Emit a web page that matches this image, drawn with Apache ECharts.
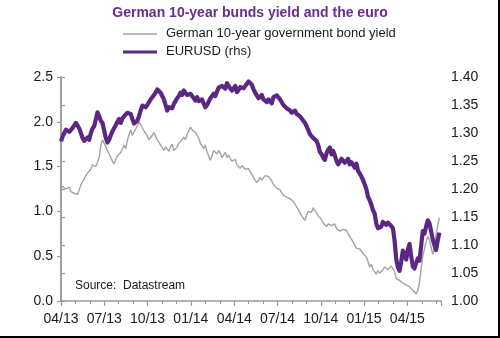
<!DOCTYPE html>
<html>
<head>
<meta charset="utf-8">
<script src="https://cdn.jsdelivr.net/npm/echarts@6/dist/echarts.min.js"></script>
<style>
html,body{margin:0;padding:0;background:#fff;}
#chart{width:500px;height:338px;}
</style>
</head>
<body>
<div id="chart"></div>
<script>
// ---- data ----
const titleText = 'German 10-year bunds yield and the euro';
const seriesNames = ['German 10-year government bond yield', 'EURUSD (rhs)'];
const startDate = '2013-04-01';   // first observation
const stepDays = 3.5;             // twice-weekly observations
const xTickLabels = ['04/13','07/13','10/13','01/14','04/14','07/14','10/14','01/15','04/15'];
const leftTicks = [0.0, 0.5, 1.0, 1.5, 2.0, 2.5];
const rightTicks = [1.00, 1.05, 1.10, 1.15, 1.20, 1.25, 1.30, 1.35, 1.40];

const bundYield = [
  1.24,1.28, 1.27,1.25, 1.24,1.27, 1.22,1.23, 1.20,1.22,
  1.19,1.24, 1.30,1.33, 1.36,1.40, 1.43,1.41, 1.47,1.52,
  1.52,1.50, 1.55,1.60, 1.74,1.80, 1.79,1.72, 1.68,1.64,
  1.60,1.56, 1.53,1.58, 1.62,1.60, 1.66,1.70, 1.74,1.70,
  1.79,1.86, 1.91,1.85, 1.87,1.92, 1.94,2.00, 1.97,1.93,
  1.90,1.87, 1.84,1.80, 1.82,1.85, 1.88,1.84, 1.80,1.78,
  1.74,1.72, 1.68,1.72, 1.70,1.67, 1.72,1.75, 1.68,1.70,
  1.72,1.76, 1.78,1.80, 1.83,1.80, 1.86,1.84, 1.94,1.91,
  1.92,1.88, 1.86,1.82, 1.76,1.78, 1.70,1.74, 1.66,1.62,
  1.57,1.62, 1.68,1.66, 1.64,1.68, 1.65,1.60, 1.62,1.66,
  1.60,1.63, 1.59,1.56, 1.55,1.58, 1.52,1.54, 1.48,1.51,
  1.52,1.47, 1.46,1.48, 1.44,1.41, 1.38,1.36, 1.32,1.35,
  1.38,1.35, 1.36,1.40, 1.41,1.39, 1.37,1.34, 1.30,1.28,
  1.26,1.25, 1.24,1.21, 1.18,1.20, 1.16,1.18, 1.14,1.12,
  1.11,1.08, 1.05,1.03, 0.99,0.95, 0.93,0.90, 0.96,1.00,
  1.02,0.99, 1.04,1.01, 0.98,0.95, 0.93,0.91, 0.87,0.89,
  0.83,0.86, 0.86,0.84, 0.85,0.86, 0.81,0.83, 0.78,0.77,
  0.80,0.78, 0.79,0.75, 0.72,0.69, 0.66,0.62, 0.59,0.61,
  0.58,0.56, 0.53,0.54, 0.49,0.44, 0.38,0.41, 0.35,0.33,
  0.30,0.34, 0.31,0.33, 0.35,0.38, 0.37,0.35, 0.37,0.39,
  0.37,0.33, 0.25,0.27, 0.23,0.21, 0.20,0.22, 0.18,0.16,
  0.16,0.14, 0.12,0.10, 0.08,0.12, 0.20,0.36, 0.50,0.58,
  0.66,0.72, 0.68,0.60, 0.52,0.60, 0.74,0.84, 0.93
];

const eurusd = [
  1.285,1.294, 1.300,1.306, 1.309,1.302, 1.304,1.309, 1.312,1.318,
  1.316,1.308, 1.300,1.291, 1.286,1.284, 1.292,1.288, 1.300,1.308,
  1.312,1.324, 1.337,1.330, 1.322,1.318, 1.305,1.291, 1.283,1.288,
  1.296,1.303, 1.305,1.314, 1.320,1.325, 1.318,1.326, 1.330,1.327,
  1.336,1.339, 1.334,1.325, 1.317,1.320, 1.322,1.330, 1.340,1.349,
  1.352,1.346, 1.350,1.355, 1.356,1.364, 1.368,1.372, 1.378,1.380,
  1.372,1.366, 1.360,1.350, 1.340,1.346, 1.348,1.344, 1.352,1.357,
  1.362,1.366, 1.372,1.368, 1.376,1.374, 1.368,1.365, 1.370,1.372,
  1.362,1.358, 1.364,1.357, 1.356,1.360, 1.352,1.346, 1.350,1.356,
  1.362,1.366, 1.370,1.366, 1.374,1.381, 1.378,1.384, 1.386,1.379,
  1.389,1.384, 1.380,1.376, 1.378,1.384, 1.373,1.377, 1.382,1.385,
  1.380,1.384, 1.388,1.392, 1.394,1.386, 1.378,1.372, 1.370,1.362,
  1.365,1.368, 1.360,1.362, 1.355,1.360, 1.358,1.353, 1.364,1.362,
  1.367,1.368, 1.360,1.355, 1.350,1.352, 1.344,1.346, 1.340,1.336,
  1.338,1.340, 1.334,1.333, 1.330,1.326, 1.322,1.318, 1.312,1.305,
  1.298,1.300, 1.291,1.294, 1.286,1.278, 1.266,1.262, 1.256,1.252,
  1.264,1.270, 1.274,1.262, 1.268,1.260, 1.250,1.244, 1.246,1.254,
  1.252,1.247, 1.250,1.254, 1.244,1.248, 1.250,1.238, 1.245,1.232,
  1.228,1.222, 1.216,1.208, 1.200,1.186, 1.180,1.172, 1.162,1.156,
  1.138,1.130, 1.128,1.133, 1.141,1.144, 1.136,1.140, 1.138,1.134,
  1.130,1.108, 1.075,1.060, 1.054,1.070, 1.090,1.082, 1.074,1.092,
  1.102,1.080, 1.062,1.058, 1.068,1.076, 1.072,1.098, 1.125,1.120,
  1.133,1.144, 1.139,1.125, 1.110,1.100, 1.091,1.108, 1.122
];

// ---- build ----
const daysPerMonth = 30.4375;
const t0 = Date.parse(startDate + 'T00:00:00Z');
function xOf(i) {
  const t = t0 + i * stepDays * 86400000;
  return (t - t0) / 86400000 / daysPerMonth;   // months since start
}
const bundData = bundYield.map((v, i) => [xOf(i), v]);
const eurData = eurusd.map((v, i) => [xOf(i), v]);

const FONT = 'Arial, "Liberation Sans", sans-serif';
const AXIS_COLOR = '#9a9a9a';
const TEXT_COLOR = '#1a1a1a';
const PURPLE = '#5c2784';
const GREY = '#a3a3a3';
const xMax = 26.33;

const chart = echarts.init(document.getElementById('chart'), null, {renderer: 'canvas'});
chart.setOption({
  animation: false,
  backgroundColor: '#ffffff',
  title: {
    text: titleText,
    left: 'center',
    top: 1,
    textStyle: {fontFamily: FONT, fontSize: 14, fontWeight: 'bold', color: '#6a2c90'}
  },
  grid: {left: 61, right: 59, top: 77, bottom: 37, containLabel: false},
  xAxis: [{
    type: 'value', min: 0, max: xMax, interval: 3, position: 'bottom',
    axisLine: {show: true, lineStyle: {color: AXIS_COLOR, width: 1.5}},
    axisTick: {show: true, length: 5, lineStyle: {color: AXIS_COLOR, width: 1.2}},
    axisLabel: {
      show: true, margin: 11, color: TEXT_COLOR, fontFamily: FONT, fontSize: 14,
      formatter: function (v) {
        const k = v / 3;
        if (Math.abs(k - Math.round(k)) > 1e-6) return '';
        return xTickLabels[Math.round(k)] || '';
      }
    },
    splitLine: {show: false}
  }, {
    type: 'value', min: 0, max: xMax, interval: 1, position: 'bottom',
    axisLine: {show: false},
    axisTick: {show: true, length: 3, lineStyle: {color: AXIS_COLOR, width: 1}},
    axisLabel: {show: false},
    splitLine: {show: false}
  }],
  yAxis: [{
    type: 'value', min: leftTicks[0], max: leftTicks[leftTicks.length - 1], interval: 0.5,
    position: 'left',
    axisLine: {show: true, lineStyle: {color: AXIS_COLOR, width: 1.5}},
    axisTick: {show: true, length: 4, lineStyle: {color: AXIS_COLOR, width: 1.2}},
    axisLabel: {margin: 8, color: TEXT_COLOR, fontFamily: FONT, fontSize: 14,
      formatter: v => v.toFixed(1)},
    splitLine: {show: false}
  }, {
    type: 'value', min: rightTicks[0], max: rightTicks[rightTicks.length - 1], interval: 0.05,
    position: 'right',
    axisLine: {show: true, lineStyle: {color: AXIS_COLOR, width: 1.5}},
    axisTick: {show: true, length: 4, lineStyle: {color: AXIS_COLOR, width: 1.2}},
    axisLabel: {margin: 10, color: TEXT_COLOR, fontFamily: FONT, fontSize: 14,
      formatter: v => v.toFixed(2)},
    splitLine: {show: false}
  }],
  series: [{
    name: seriesNames[0], type: 'line', xAxisIndex: 0, yAxisIndex: 0,
    data: bundData, showSymbol: false, symbol: 'none',
    lineStyle: {color: GREY, width: 1.4}, z: 2
  }, {
    name: seriesNames[1], type: 'line', xAxisIndex: 0, yAxisIndex: 1,
    data: eurData, showSymbol: false, symbol: 'none',
    lineStyle: {color: PURPLE, width: 4.2, join: 'round'}, z: 3
  }],
  graphic: [
    {type: 'line', shape: {x1: 123, y1: 34, x2: 157, y2: 34}, style: {stroke: GREY, lineWidth: 1.6}},
    {type: 'text', left: 166, top: 27, style: {text: seriesNames[0], fill: TEXT_COLOR, font: '13px ' + FONT}},
    {type: 'line', shape: {x1: 123, y1: 52, x2: 157, y2: 52}, style: {stroke: PURPLE, lineWidth: 3.2}},
    {type: 'text', left: 166, top: 45, style: {text: seriesNames[1], fill: TEXT_COLOR, font: '13px ' + FONT}},
    {type: 'text', left: 75, top: 280, style: {text: 'Source:  Datastream', fill: TEXT_COLOR, font: '12px ' + FONT}},
    {type: 'rect', shape: {x: 498, y: 0, width: 2, height: 338}, style: {fill: '#000'}},
    {type: 'rect', shape: {x: 0, y: 336, width: 500, height: 2}, style: {fill: '#000'}}
  ]
});
</script>
</body>
</html>
